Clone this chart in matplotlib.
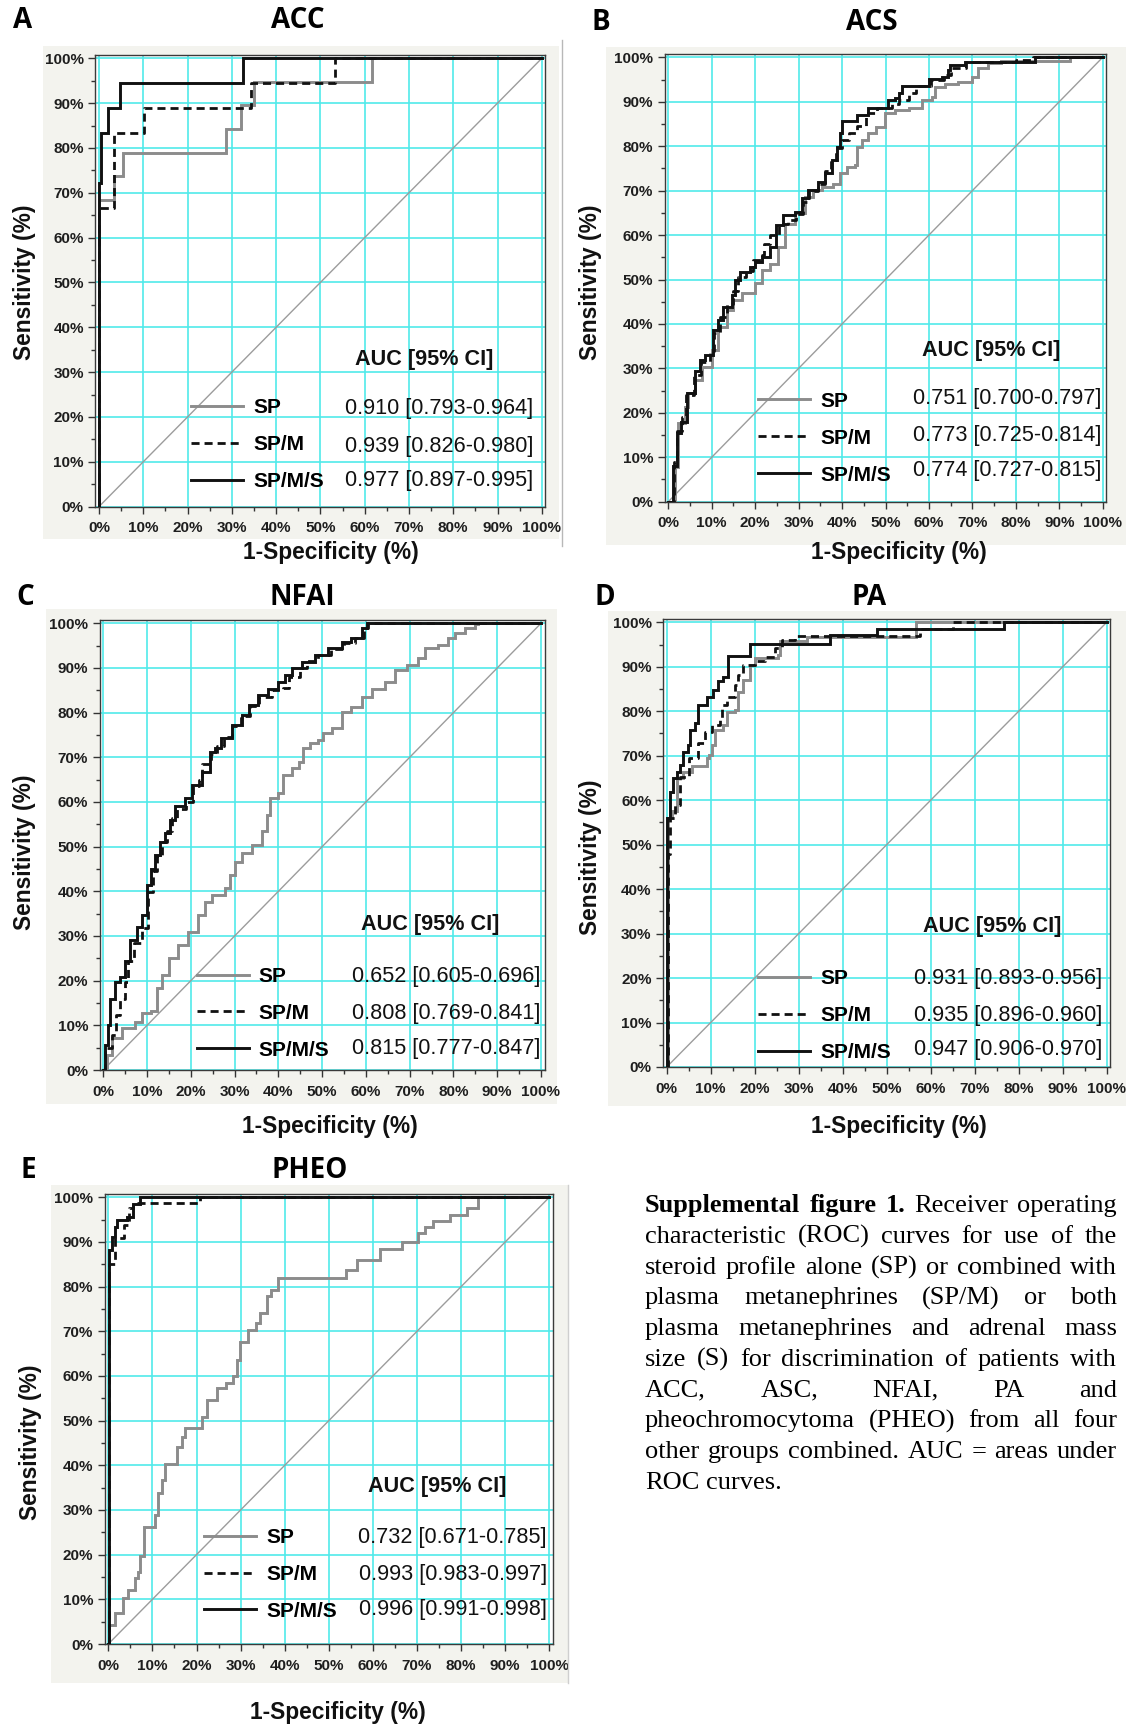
import matplotlib
matplotlib.use("Agg")
import matplotlib.pyplot as plt
from matplotlib import font_manager
from matplotlib.patches import Rectangle
from matplotlib.lines import Line2D
from matplotlib.ticker import MultipleLocator
from matplotlib.font_manager import FontProperties

# ----------------------------------------------------------------- data
PANEL_LETTERS = ["A", "B", "C", "D", "E"]
PANEL_TITLES = ["ACC", "ACS", "NFAI", "PA", "PHEO"]
MODEL_LABELS = ["SP", "SP/M", "SP/M/S"]
TICK_VALUES = [0, 10, 20, 30, 40, 50, 60, 70, 80, 90, 100]
TICK_LABELS = ["0%", "10%", "20%", "30%", "40%", "50%", "60%", "70%", "80%", "90%", "100%"]
X_LABEL = "1-Specificity (%)"
Y_LABEL = "Sensitivity (%)"
AUC_HEADER = "AUC [95% CI]"

# AUC and 95% CI per model (SP, SP/M, SP/M/S)
ACC_AUC = [0.910, 0.939, 0.977]
ACC_LO = [0.793, 0.826, 0.897]
ACC_HI = [0.964, 0.980, 0.995]
ACS_AUC = [0.751, 0.773, 0.774]
ACS_LO = [0.700, 0.725, 0.727]
ACS_HI = [0.797, 0.814, 0.815]
NFAI_AUC = [0.652, 0.808, 0.815]
NFAI_LO = [0.605, 0.769, 0.777]
NFAI_HI = [0.696, 0.841, 0.847]
PA_AUC = [0.931, 0.935, 0.947]
PA_LO = [0.893, 0.896, 0.906]
PA_HI = [0.956, 0.960, 0.970]
PHEO_AUC = [0.732, 0.993, 0.996]
PHEO_LO = [0.671, 0.983, 0.991]
PHEO_HI = [0.785, 0.997, 0.998]

# ROC step curves (1-specificity %, sensitivity %)
ACC_SP_FPR = [0, 0, 3.5, 5.4, 28.7, 32.0, 35.1, 61.7, 100]
ACC_SP_TPR = [0, 68.4, 73.7, 78.9, 84.2, 89.5, 94.7, 100, 100]
ACC_SPM_FPR = [0, 0, 3.4, 10.2, 34.4, 53.2, 100]
ACC_SPM_TPR = [0, 66.7, 83.3, 88.9, 94.4, 100, 100]
ACC_SPMS_FPR = [0, 0, 0.5, 2.0, 4.7, 32.5, 100]
ACC_SPMS_TPR = [0, 72.2, 83.3, 88.9, 94.4, 100, 100]

ACS_SP_FPR = [0, 1.5, 2.3, 3.8, 4.6, 6.1, 7.7, 10.0, 11.5, 13.4, 15.0, 16.9, 20.0, 21.5, 23.4,
              25.3, 26.9, 29.2, 31.5, 33.4, 35.3, 38.0, 39.5, 41.1, 43.0, 43.4, 44.5, 46.0, 47.9,
              49.9, 52.2, 55.3, 58.3, 60.6, 61.4, 63.7, 66.8, 69.8, 71.4, 73.7, 76.7, 92.5, 100]
ACS_SP_TPR = [0, 7.9, 17.6, 21.4, 24.4, 27.4, 30.4, 34.1, 39.4, 43.1, 45.4, 46.9, 49.1, 52.1, 53.6,
              57.4, 62.6, 64.9, 68.6, 70.1, 70.9, 71.6, 73.9, 75.4, 75.8, 79.9, 81.4, 82.9, 84.4,
              87.4, 88.1, 88.7, 90.4, 91.1, 93.4, 94.1, 94.5, 95.6, 97.5, 98.7, 99.2, 100, 100]
ACS_SPM_FPR = [0, 1.2, 2.0, 3.2, 4.0, 6.0, 7.5, 9.5, 10.5, 12.0, 13.5, 15.0, 16.0, 18.0, 19.5,
               21.5, 22.0, 23.5, 25.5, 27.5, 29.5, 31.0, 32.5, 34.5, 36.0, 37.5, 38.5, 40.0, 41.5,
               43.5, 45.5, 48.0, 51.5, 53.0, 55.5, 57.0, 60.5, 63.5, 65.0, 68.5, 80.0, 84.0, 100]
ACS_SPM_TPR = [0, 9.0, 16.0, 19.0, 24.0, 28.5, 31.5, 34.0, 38.0, 41.5, 44.5, 47.5, 50.5, 52.0, 54.5,
               55.5, 58.0, 60.0, 62.5, 63.5, 64.8, 67.5, 70.0, 71.5, 74.5, 77.0, 79.5, 81.5, 83.0,
               84.5, 87.5, 88.5, 89.5, 90.5, 92.0, 93.5, 95.0, 96.0, 97.5, 99.0, 99.3, 100, 100]
ACS_SPMS_FPR = [0, 1.0, 1.9, 3.0, 4.2, 6.1, 7.3, 8.4, 10.4, 11.5, 12.7, 14.6, 15.3, 16.5, 18.8,
                20.0, 21.5, 23.4, 24.9, 26.4, 29.2, 30.7, 32.2, 34.5, 36.1, 37.6, 38.8, 39.5, 40.1,
                43.5, 46.0, 50.5, 52.2, 53.0, 53.7, 59.9, 62.9, 64.5, 64.8, 68.3, 84.4, 100]
ACS_SPMS_TPR = [0, 8.0, 15.4, 18.0, 24.4, 29.3, 31.9, 33.0, 38.6, 40.9, 43.9, 46.5, 49.9, 51.8, 52.9,
                54.0, 55.1, 57.4, 62.3, 64.5, 65.3, 68.3, 70.1, 72.0, 73.9, 76.9, 79.9, 82.9, 85.7,
                87.0, 88.5, 90.4, 90.8, 91.9, 93.5, 95.2, 95.6, 97.1, 98.3, 99.0, 100, 100]

NFAI_SP_FPR = [0, 0.8, 1.9, 4.2, 7.2, 8.8, 11.0, 12.2, 13.3, 14.9, 17.1, 19.4, 21.7, 23.2, 24.8,
               27.8, 28.9, 30.1, 31.6, 33.9, 36.2, 37.3, 38.1, 40.0, 41.1, 43.0, 44.6, 45.7, 47.2,
               49.1, 50.3, 52.2, 54.5, 56.7, 59.0, 61.3, 64.4, 66.6, 69.3, 72.0, 73.5, 76.5, 78.8,
               80.4, 82.6, 84.9, 85.5, 100]
NFAI_SP_TPR = [0, 3.4, 7.1, 9.3, 10.8, 12.7, 13.1, 18.3, 21.3, 25.0, 28.0, 31.0, 34.7, 37.7, 39.2,
               40.7, 43.7, 46.6, 48.5, 50.4, 53.4, 57.1, 60.8, 61.9, 66.0, 67.5, 69.0, 72.0, 73.1,
               73.9, 75.4, 76.5, 80.2, 81.3, 83.6, 85.4, 86.9, 89.6, 90.7, 92.2, 94.4, 95.1, 96.6,
               97.8, 98.9, 99.8, 100, 100]
NFAI_SPM_FPR = [0, 0.4, 1.9, 3.0, 3.8, 4.9, 5.7, 7.0, 8.8, 10.3, 11.3, 12.3, 13.3, 14.5, 15.8,
                16.8, 18.8, 20.5, 21.8, 22.5, 24.5, 26.0, 27.5, 29.5, 31.5, 33.5, 35.5, 38.5, 41.0,
                42.5, 45.0, 46.5, 49.0, 52.0, 55.0, 57.5, 59.5, 60.5, 100]
NFAI_SPM_TPR = [0, 4.9, 7.8, 12.3, 16.0, 19.8, 24.3, 28.5, 31.7, 39.9, 44.5, 48.0, 51.0, 53.5, 56.5,
                58.5, 60.0, 63.5, 65.0, 68.5, 70.8, 72.5, 74.5, 77.0, 79.2, 81.5, 83.5, 85.0, 85.5,
                88.0, 90.0, 91.5, 92.8, 94.2, 95.6, 96.8, 99.0, 100, 100]
NFAI_SPMS_FPR = [0, 0.4, 1.1, 1.5, 2.7, 3.8, 4.9, 6.1, 7.6, 8.8, 9.9, 11.0, 11.8, 12.9, 14.1,
                 15.3, 16.4, 18.7, 20.2, 22.5, 24.4, 25.5, 27.0, 29.3, 31.6, 33.2, 35.4, 37.7, 40.0,
                 41.5, 43.0, 45.3, 48.4, 51.4, 54.5, 56.7, 59.0, 60.2, 100]
NFAI_SPMS_TPR = [0, 5.6, 10.0, 16.0, 19.8, 20.9, 24.3, 29.1, 32.1, 34.7, 41.4, 45.1, 48.1, 51.1, 53.0,
                 56.0, 59.0, 60.8, 63.8, 66.8, 71.3, 72.0, 74.3, 77.2, 79.5, 81.7, 84.0, 85.4, 86.9,
                 88.5, 89.9, 91.4, 92.9, 94.4, 95.9, 96.6, 98.9, 100, 100]

PA_SP_FPR = [0, 0.4, 1.1, 2.3, 3.8, 5.7, 9.1, 9.5, 10.2, 11.0, 12.9, 13.6, 15.5, 16.3, 17.4,
             18.9, 20.1, 25.4, 25.8, 31.8, 56.6, 100]
PA_SP_TPR = [0, 56.0, 57.5, 64.9, 66.4, 67.6, 69.4, 70.2, 72.4, 75.8, 76.9, 79.9, 80.3, 84.4, 87.0,
             90.4, 91.9, 92.7, 95.7, 96.8, 100, 100]
PA_SPM_FPR = [0, 0.3, 0.8, 1.9, 3.0, 5.0, 7.2, 8.7, 10.2, 12.1, 12.5, 13.6, 15.5, 16.3, 17.4,
              20.1, 22.3, 24.6, 26.1, 29.2, 57.5, 65.0, 100]
PA_SPM_TPR = [0, 48.0, 56.0, 59.0, 65.3, 69.5, 72.8, 75.4, 76.9, 78.4, 81.4, 83.3, 85.9, 88.2, 90.4,
              91.2, 92.3, 94.2, 96.0, 97.0, 98.6, 100, 100]
PA_SPMS_FPR = [0, 0, 0.8, 1.5, 2.3, 3.0, 3.8, 4.9, 5.3, 6.4, 7.2, 9.1, 10.6, 11.7, 12.9,
               13.9, 18.9, 37.0, 47.7, 76.7, 100]
PA_SPMS_TPR = [0, 56.0, 61.9, 64.9, 66.4, 67.9, 70.9, 72.4, 75.8, 77.3, 81.4, 83.3, 84.8, 86.7, 87.8,
               92.5, 95.2, 97.2, 98.4, 100, 100]

PHEO_SP_FPR = [0, 0.2, 1.5, 3.4, 4.5, 6.0, 6.8, 7.2, 8.0, 10.5, 11.3, 12.1, 12.9, 15.5, 16.6,
               17.4, 21.2, 22.3, 24.6, 26.8, 28.3, 29.1, 29.9, 31.7, 33.4, 34.4, 35.9, 37.0, 38.5,
               54.0, 56.3, 61.6, 66.5, 70.3, 71.8, 73.7, 77.5, 81.3, 83.9, 100]
PHEO_SP_TPR = [0, 4.3, 6.9, 10.2, 12.1, 14.7, 16.2, 19.6, 26.1, 28.9, 33.7, 36.7, 40.4, 44.2, 46.4,
               48.3, 50.9, 54.6, 57.2, 58.4, 59.9, 63.6, 67.7, 70.3, 71.8, 74.0, 77.8, 79.3, 81.9,
               83.7, 86.0, 88.4, 89.9, 92.0, 93.4, 94.6, 96.0, 97.5, 100, 100]
PHEO_SPM_FPR = [0, 0.1, 1.6, 3.6, 4.8, 5.7, 20.8, 100]
PHEO_SPM_TPR = [0, 85.0, 90.8, 93.8, 97.5, 98.8, 100, 100]
PHEO_SPMS_FPR = [0, 0.2, 0.8, 1.5, 1.9, 4.2, 5.7, 7.2, 100]
PHEO_SPMS_TPR = [0, 88.2, 91.2, 93.4, 94.9, 95.7, 98.5, 100, 100]

CAPTION_LINES = [
    "Supplemental figure 1. Receiver operating",
    "characteristic (ROC) curves for use of the",
    "steroid profile alone (SP) or combined with",
    "plasma metanephrines (SP/M) or both",
    "plasma metanephrines and adrenal mass",
    "size (S) for discrimination of patients with",
    "ACC, ASC, NFAI, PA and",
    "pheochromocytoma (PHEO) from all four",
    "other groups combined. AUC = areas under",
    "ROC curves.",
]
CAPTION_BOLD_WORDS = 3

PANELS = [
    dict(curves=[(ACC_SP_FPR, ACC_SP_TPR), (ACC_SPM_FPR, ACC_SPM_TPR), (ACC_SPMS_FPR, ACC_SPMS_TPR)],
         auc=ACC_AUC, lo=ACC_LO, hi=ACC_HI),
    dict(curves=[(ACS_SP_FPR, ACS_SP_TPR), (ACS_SPM_FPR, ACS_SPM_TPR), (ACS_SPMS_FPR, ACS_SPMS_TPR)],
         auc=ACS_AUC, lo=ACS_LO, hi=ACS_HI),
    dict(curves=[(NFAI_SP_FPR, NFAI_SP_TPR), (NFAI_SPM_FPR, NFAI_SPM_TPR), (NFAI_SPMS_FPR, NFAI_SPMS_TPR)],
         auc=NFAI_AUC, lo=NFAI_LO, hi=NFAI_HI),
    dict(curves=[(PA_SP_FPR, PA_SP_TPR), (PA_SPM_FPR, PA_SPM_TPR), (PA_SPMS_FPR, PA_SPMS_TPR)],
         auc=PA_AUC, lo=PA_LO, hi=PA_HI),
    dict(curves=[(PHEO_SP_FPR, PHEO_SP_TPR), (PHEO_SPM_FPR, PHEO_SPM_TPR), (PHEO_SPMS_FPR, PHEO_SPMS_TPR)],
         auc=PHEO_AUC, lo=PHEO_LO, hi=PHEO_HI),
]

# ----------------------------------------------------------------- layout (pixels)
W, H = 1126, 1729
GEOM = [
    dict(axes=(99.0, 541.8, 58.3, 506.6), bg=(43, 46, 559, 539), letter=(23, 21), title=(298, 21),
         ylab=(25, 282), xlab=(331, 552), header=(73.5, 32.9), leg=(20.8, 13.8),
         rows=(21.8, 13.4, 5.8), valx=98.1),
    dict(axes=(668.3, 1102.7, 57.3, 501.7), bg=(606, 47, 1126, 545), letter=(601, 22), title=(872, 22),
         ylab=(591, 282), xlab=(899, 552), header=(74.4, 34.1), leg=(20.7, 14.3),
         rows=(23.3, 15.0, 7.0), valx=99.6),
    dict(axes=(103.3, 541.0, 623.3, 1070.0), bg=(46, 609, 557, 1104), letter=(25, 597), title=(302, 597),
         ylab=(25, 852), xlab=(330, 1126), header=(74.7, 32.5), leg=(21.3, 12.7),
         rows=(20.9, 12.7, 4.9), valx=99.8),
    dict(axes=(666.7, 1106.7, 622.3, 1067.0), bg=(608, 611, 1126, 1106), letter=(605, 597), title=(869, 597),
         ylab=(591, 857), xlab=(899, 1126), header=(73.9, 31.7), leg=(20.8, 11.6),
         rows=(19.9, 11.6, 4.0), valx=98.9),
    dict(axes=(108.3, 549.3, 1197.3, 1644.0), bg=(51, 1185, 568, 1683), letter=(28, 1171), title=(310, 1171),
         ylab=(31, 1442), xlab=(338, 1713), header=(74.6, 35.2), leg=(21.7, 15.6),
         rows=(23.9, 15.6, 7.8), valx=99.4),
]
XPAD, YPAD = 0.8, 0.7

names = {f.name for f in font_manager.fontManager.ttflist}
if "Liberation Sans Narrow" in names:
    NARROW, NSCALE = "Liberation Sans Narrow", 1.0
else:
    NARROW, NSCALE = "Liberation Sans", 0.84
TITLE_FONT = "Open Sans" if "Open Sans" in names else "DejaVu Sans"
SERIF = "Liberation Serif"

BG = "#f3f3ee"
GRID = "#50eaea"
STYLES = [dict(color="#8c8c8c", lw=2.1, ls="-", zorder=3),
          dict(color="#111111", lw=2.0, ls=(0, (2.9, 1.8)), zorder=4),
          dict(color="#111111", lw=2.1, ls="-", zorder=5)]

fig = plt.figure(figsize=(W / 100, H / 100), dpi=100)
fig.patch.set_facecolor("white")


def fx(px):
    return px / W


def fy(py):
    return 1 - py / H


for p, g in zip(PANELS, GEOM):
    x1, y1, x2, y2 = g["bg"]
    fig.add_artist(Rectangle((fx(x1), fy(y2)), (x2 - x1) / W, (y2 - y1) / H,
                             transform=fig.transFigure, facecolor=BG, edgecolor="none", zorder=0))

fig.add_artist(Line2D([fx(562), fx(562)], [fy(40), fy(546)], transform=fig.transFigure,
                      color="#b8b8b8", lw=1.0, zorder=1))
fig.add_artist(Line2D([fx(568), fx(568)], [fy(1185), fy(1683)], transform=fig.transFigure,
                      color="#cfcfcf", lw=1.0, zorder=1))

TICK_FONT = FontProperties(family="Liberation Sans", weight="bold", size=11)

for i, (p, g) in enumerate(zip(PANELS, GEOM)):
    x0, x100, y100, y0 = g["axes"]
    w = x100 - x0
    h = y0 - y100
    left = x0 - XPAD * w / 100
    right = x100 + XPAD * w / 100
    top = y100 - YPAD * h / 100
    ax = fig.add_axes([fx(left), fy(y0), (right - left) / W, (y0 - top) / H])
    ax.set_facecolor("white")
    ax.set_xlim(-XPAD, 100 + XPAD)
    ax.set_ylim(0, 100 + YPAD)

    ax.set_xticks(TICK_VALUES)
    ax.set_yticks(TICK_VALUES)
    ax.set_xticklabels(TICK_LABELS)
    ax.set_yticklabels(TICK_LABELS)
    ax.xaxis.set_minor_locator(MultipleLocator(5))
    ax.yaxis.set_minor_locator(MultipleLocator(5))
    ax.tick_params(which="major", length=5, width=1.0, color="#333333", labelcolor="#1e1e1e")
    ax.tick_params(which="minor", length=3, width=1.0, color="#333333")
    ax.tick_params(axis="x", which="major", pad=5.5)
    ax.tick_params(axis="y", which="major", pad=3.4)
    for lab in ax.get_xticklabels() + ax.get_yticklabels():
        lab.set_fontproperties(TICK_FONT)
    for sp in ax.spines.values():
        sp.set_color("#3a3a3a")
        sp.set_linewidth(1.0)
    ax.set_axisbelow(True)
    ax.grid(True, which="major", color=GRID, lw=1.2)

    # chance diagonal
    ax.plot([0, 100], [0, 100], color="#9c9c9c", lw=1.0, zorder=2)

    handles = []
    for (fpr, tpr), st in zip(p["curves"], STYLES):
        ln, = ax.plot(fpr, tpr, drawstyle="steps-post", color=st["color"], lw=st["lw"],
                      ls=st["ls"], zorder=st["zorder"], solid_joinstyle="miter")
        handles.append(ln)

    leg = ax.legend(handles, MODEL_LABELS, loc="center left", bbox_to_anchor=g["leg"],
                    bbox_transform=ax.transData, frameon=False,
                    prop=FontProperties(family="Liberation Sans", weight="bold", size=15),
                    handlelength=2.5, handletextpad=0.48, labelspacing=0.86,
                    borderpad=0, borderaxespad=0)
    leg.set_zorder(6)

    hx, hy = g["header"]
    ax.text(hx, hy, AUC_HEADER, ha="center", va="center", family=NARROW, weight="bold",
            size=18.5 * NSCALE, color="#111111", zorder=7)
    for ry, a, lo, hi in zip(g["rows"], p["auc"], p["lo"], p["hi"]):
        ax.text(g["valx"], ry, f"{a:.3f} [{lo:.3f}-{hi:.3f}]", ha="right", va="center",
                family=NARROW, size=18.5 * NSCALE, color="#111111", zorder=7)

    lx, ly = g["letter"]
    fig.text(fx(lx), fy(ly), PANEL_LETTERS[i], ha="center", va="center",
             family=[TITLE_FONT, "DejaVu Sans"], weight="bold", size=20, color="#000000")
    tx, ty = g["title"]
    fig.text(fx(tx), fy(ty), PANEL_TITLES[i], ha="center", va="center",
             family=[TITLE_FONT, "DejaVu Sans"], weight="bold", size=20, color="#000000")
    yx, yy = g["ylab"]
    fig.text(fx(yx), fy(yy), Y_LABEL, ha="center", va="center", rotation=90,
             family=NARROW, weight="bold", size=19.5 * NSCALE, color="#111111")
    xx, xy = g["xlab"]
    fig.text(fx(xx), fy(xy), X_LABEL, ha="center", va="center",
             family=NARROW, weight="bold", size=19.5 * NSCALE, color="#111111")

# ----------------------------------------------------------------- justified caption
renderer = fig.canvas.get_renderer()
CAP_LEFT, CAP_RIGHT = 645.0, 1117.0
CAP_BASE0, CAP_PITCH = 1212.0, 30.77
CAP_SIZE = 19
for li, line in enumerate(CAPTION_LINES):
    base = CAP_BASE0 + li * CAP_PITCH
    words = line.split(" ")
    arts = []
    for wi, word in enumerate(words):
        weight = "bold" if (li == 0 and wi < CAPTION_BOLD_WORDS) else "normal"
        t = fig.text(fx(CAP_LEFT), fy(base), word, ha="left", va="baseline", family=SERIF,
                     weight=weight, size=CAP_SIZE, color="#000000")
        arts.append(t)
    widths = [a.get_window_extent(renderer).width for a in arts]
    if li == len(CAPTION_LINES) - 1 or len(words) == 1:
        gap = 0.25 * CAP_SIZE * 100 / 72
    else:
        gap = (CAP_RIGHT - CAP_LEFT - sum(widths)) / (len(words) - 1)
    x = CAP_LEFT
    for a, wd in zip(arts, widths):
        a.set_x(fx(x))
        x += wd + gap

fig.savefig("out.png", dpi=100, facecolor="white")
